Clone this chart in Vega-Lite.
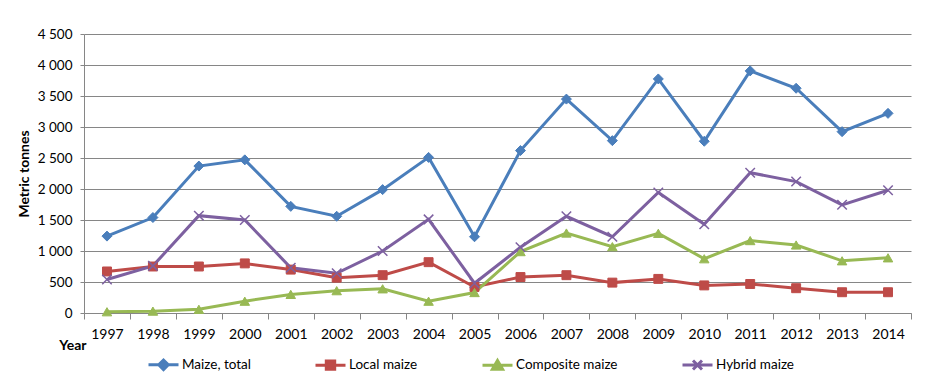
{
  "$schema": "https://vega.github.io/schema/vega-lite/v6.json",
  "width": 827,
  "height": 279,
  "autosize": {"type": "none"},
  "padding": {"left": 84, "top": 34, "right": 31, "bottom": 70},
  "background": "white",
  "config": {
    "font": "Lato",
    "view": {"stroke": null},
    "axis": {"domainColor": "#868686", "tickColor": "#868686", "gridColor": "#868686", "labelColor": "#000000", "titleColor": "#000000", "labelFont": "Lato", "titleFont": "Lato"},
    "legend": {"labelFont": "Lato", "labelColor": "#000000"}
  },
  "datasets": {
    "maize": [
      {"year": "1997", "series": "Maize, total", "value": 1240},
      {"year": "1998", "series": "Maize, total", "value": 1540},
      {"year": "1999", "series": "Maize, total", "value": 2370},
      {"year": "2000", "series": "Maize, total", "value": 2470},
      {"year": "2001", "series": "Maize, total", "value": 1720},
      {"year": "2002", "series": "Maize, total", "value": 1560},
      {"year": "2003", "series": "Maize, total", "value": 1990},
      {"year": "2004", "series": "Maize, total", "value": 2510},
      {"year": "2005", "series": "Maize, total", "value": 1230},
      {"year": "2006", "series": "Maize, total", "value": 2620},
      {"year": "2007", "series": "Maize, total", "value": 3450},
      {"year": "2008", "series": "Maize, total", "value": 2780},
      {"year": "2009", "series": "Maize, total", "value": 3775},
      {"year": "2010", "series": "Maize, total", "value": 2770},
      {"year": "2011", "series": "Maize, total", "value": 3905},
      {"year": "2012", "series": "Maize, total", "value": 3625},
      {"year": "2013", "series": "Maize, total", "value": 2925},
      {"year": "2014", "series": "Maize, total", "value": 3220},
      {"year": "1997", "series": "Local maize", "value": 670},
      {"year": "1998", "series": "Local maize", "value": 750},
      {"year": "1999", "series": "Local maize", "value": 750},
      {"year": "2000", "series": "Local maize", "value": 800},
      {"year": "2001", "series": "Local maize", "value": 700},
      {"year": "2002", "series": "Local maize", "value": 570},
      {"year": "2003", "series": "Local maize", "value": 610},
      {"year": "2004", "series": "Local maize", "value": 820},
      {"year": "2005", "series": "Local maize", "value": 420},
      {"year": "2006", "series": "Local maize", "value": 580},
      {"year": "2007", "series": "Local maize", "value": 610},
      {"year": "2008", "series": "Local maize", "value": 490},
      {"year": "2009", "series": "Local maize", "value": 550},
      {"year": "2010", "series": "Local maize", "value": 445},
      {"year": "2011", "series": "Local maize", "value": 468},
      {"year": "2012", "series": "Local maize", "value": 400},
      {"year": "2013", "series": "Local maize", "value": 335},
      {"year": "2014", "series": "Local maize", "value": 335},
      {"year": "1997", "series": "Composite maize", "value": 20},
      {"year": "1998", "series": "Composite maize", "value": 30},
      {"year": "1999", "series": "Composite maize", "value": 60},
      {"year": "2000", "series": "Composite maize", "value": 190},
      {"year": "2001", "series": "Composite maize", "value": 300},
      {"year": "2002", "series": "Composite maize", "value": 360},
      {"year": "2003", "series": "Composite maize", "value": 390},
      {"year": "2004", "series": "Composite maize", "value": 190},
      {"year": "2005", "series": "Composite maize", "value": 330},
      {"year": "2006", "series": "Composite maize", "value": 990},
      {"year": "2007", "series": "Composite maize", "value": 1290},
      {"year": "2008", "series": "Composite maize", "value": 1070},
      {"year": "2009", "series": "Composite maize", "value": 1285},
      {"year": "2010", "series": "Composite maize", "value": 875},
      {"year": "2011", "series": "Composite maize", "value": 1168},
      {"year": "2012", "series": "Composite maize", "value": 1097},
      {"year": "2013", "series": "Composite maize", "value": 842},
      {"year": "2014", "series": "Composite maize", "value": 890},
      {"year": "1997", "series": "Hybrid maize", "value": 540},
      {"year": "1998", "series": "Hybrid maize", "value": 760},
      {"year": "1999", "series": "Hybrid maize", "value": 1570},
      {"year": "2000", "series": "Hybrid maize", "value": 1500},
      {"year": "2001", "series": "Hybrid maize", "value": 730},
      {"year": "2002", "series": "Hybrid maize", "value": 640},
      {"year": "2003", "series": "Hybrid maize", "value": 1000},
      {"year": "2004", "series": "Hybrid maize", "value": 1510},
      {"year": "2005", "series": "Hybrid maize", "value": 480},
      {"year": "2006", "series": "Hybrid maize", "value": 1060},
      {"year": "2007", "series": "Hybrid maize", "value": 1560},
      {"year": "2008", "series": "Hybrid maize", "value": 1230},
      {"year": "2009", "series": "Hybrid maize", "value": 1945},
      {"year": "2010", "series": "Hybrid maize", "value": 1430},
      {"year": "2011", "series": "Hybrid maize", "value": 2263},
      {"year": "2012", "series": "Hybrid maize", "value": 2120},
      {"year": "2013", "series": "Hybrid maize", "value": 1745},
      {"year": "2014", "series": "Hybrid maize", "value": 1980}
    ]
  },
  "data": {"name": "maize"},
  "encoding": {
    "x": {
      "field": "year", "type": "ordinal",
      "scale": {"type": "band", "paddingInner": 0, "paddingOuter": 0},
      "axis": {
        "title": "Year", "titleFontWeight": "bold", "titleFontSize": 14,
        "titleAlign": "right", "titleBaseline": "middle", "titleX": 2, "titleY": 32, "titleAnchor": null,
        "labelAngle": 0, "labelFontSize": 14, "labelPadding": 8,
        "tickBand": "extent", "tickSize": 6, "grid": false
      }
    },
    "y": {
      "field": "value", "type": "quantitative",
      "scale": {"domain": [0, 4500], "nice": false},
      "axis": {
        "title": "Metric tonnes", "titleFontWeight": "bold", "titleFontSize": 14, "titlePadding": 6,
        "values": [0, 500, 1000, 1500, 2000, 2500, 3000, 3500, 4000, 4500],
        "labelExpr": "replace(format(datum.value, ','), ',', ' ')",
        "labelFontSize": 13.5, "labelPadding": 8, "tickSize": 4, "grid": true
      }
    }
  },
  "layer": [
    {
      "mark": {"type": "line", "strokeWidth": 3},
      "encoding": {
        "color": {
          "field": "series", "type": "nominal",
          "scale": {
            "domain": ["Maize, total", "Local maize", "Composite maize", "Hybrid maize"],
            "range": ["#4A7EBB", "#BE4B48", "#98B954", "#7D60A0"]
          },
          "legend": {
            "title": null, "orient": "none", "direction": "horizontal",
            "legendX": 63, "legendY": 314, "padding": 0,
            "labelFontSize": 13.5, "labelOffset": 2, "columnPadding": 58,
            "symbolSize": 900, "symbolStrokeWidth": 3,
            "encode": {
              "symbols": {
                "update": {
                  "shape": {"signal": "datum.value === 'Maize, total' ? 'M-1,0L1,0M-0.32,0L0,-0.32L0.32,0L0,0.32Z' : datum.value === 'Local maize' ? 'M-1,0L1,0M-0.28,-0.28L0.28,-0.28L0.28,0.28L-0.28,0.28Z' : datum.value === 'Composite maize' ? 'M-1,0L1,0M0,-0.32L0.34,0.26L-0.34,0.26Z' : 'M-1,0L1,0M-0.3,-0.3L0.3,0.3M-0.3,0.3L0.3,-0.3'"},
                  "fill": {"signal": "datum.value === 'Maize, total' ? '#4A7EBB' : datum.value === 'Local maize' ? '#BE4B48' : datum.value === 'Composite maize' ? '#98B954' : 'transparent'"},
                  "stroke": {"signal": "datum.value === 'Maize, total' ? '#4A7EBB' : datum.value === 'Local maize' ? '#BE4B48' : datum.value === 'Composite maize' ? '#98B954' : '#7D60A0'"},
                  "strokeWidth": {"value": 3}
                }
              }
            }
          }
        }
      }
    },
    {
      "transform": [{"filter": "datum.series === 'Maize, total'"}],
      "mark": {"type": "point", "shape": "diamond", "filled": true, "size": 100, "opacity": 1, "fill": "#4A7EBB", "stroke": "#4A7EBB", "strokeWidth": 1}
    },
    {
      "transform": [{"filter": "datum.series === 'Local maize'"}],
      "mark": {"type": "point", "shape": "square", "filled": true, "size": 80, "opacity": 1, "fill": "#BE4B48", "stroke": "#BE4B48", "strokeWidth": 1}
    },
    {
      "transform": [{"filter": "datum.series === 'Composite maize'"}],
      "mark": {"type": "point", "shape": "triangle-up", "filled": true, "size": 90, "opacity": 1, "fill": "#98B954", "stroke": "#98B954", "strokeWidth": 1}
    },
    {
      "transform": [{"filter": "datum.series === 'Hybrid maize'"}],
      "mark": {"type": "point", "shape": "M-1,-1L1,1M-1,1L1,-1", "filled": false, "size": 90, "opacity": 1, "stroke": "#7D60A0", "strokeWidth": 1.5}
    }
  ]
}
